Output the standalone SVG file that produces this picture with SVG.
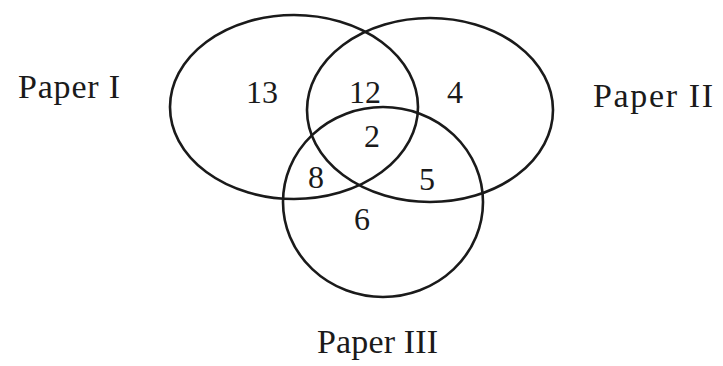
<svg xmlns="http://www.w3.org/2000/svg" width="723" height="366" viewBox="0 0 723 366">
<style>
.set{fill:none;stroke:#1a1a1a;stroke-width:2.6}
text{font-family:"Liberation Serif","Times New Roman",serif;fill:#1a1a1a}
.n{font-size:32px;text-anchor:middle}
.lbl{font-size:34px}
</style>
<rect width="723" height="366" fill="#ffffff"/>
<g id="sets">
<g id="paper1"><ellipse class="set" cx="294" cy="107" rx="124" ry="92"/></g>
<g id="paper2"><ellipse class="set" cx="430" cy="110" rx="123" ry="92"/></g>
<g id="paper3"><ellipse class="set" cx="383" cy="202" rx="100" ry="95"/></g>
</g>
<g id="counts">
<text class="n" x="262" y="103">13</text>
<text class="n" x="365" y="103">12</text>
<text class="n" x="455" y="103">4</text>
<text class="n" x="372" y="147">2</text>
<text class="n" x="316" y="188">8</text>
<text class="n" x="427" y="190">5</text>
<text class="n" x="362" y="230">6</text>
</g>
<g id="labels">
<text class="lbl" x="18" y="98" textLength="102">Paper I</text>
<text class="lbl" x="593" y="107" textLength="120">Paper II</text>
<text class="lbl" x="317" y="353" textLength="121">Paper III</text>
</g>
</svg>
